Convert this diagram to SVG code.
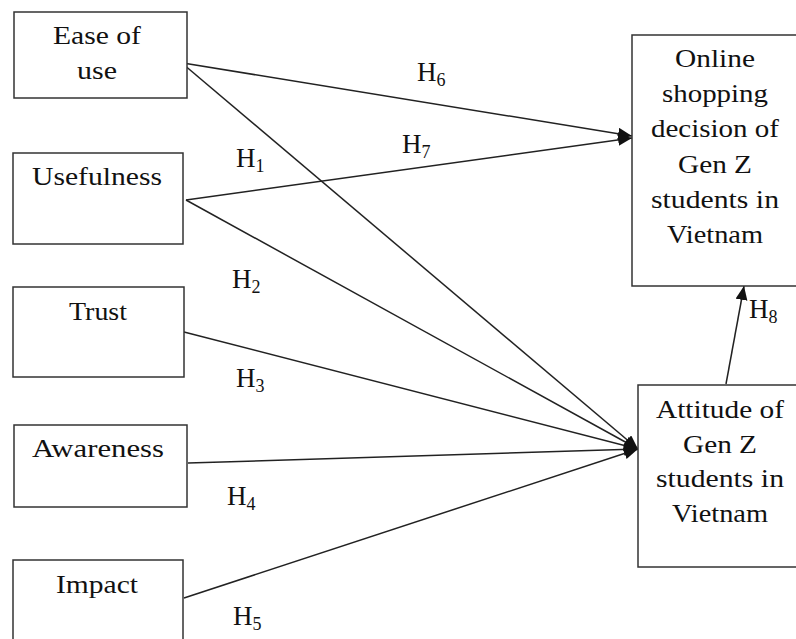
<svg xmlns="http://www.w3.org/2000/svg" width="796" height="639" viewBox="0 0 796 639">
<style>
.box{fill:#fff;stroke:#333;stroke-width:1.5}
.t{font-family:"Liberation Serif","Times New Roman",serif;font-size:26px;fill:#111;text-anchor:middle}
.h{font-family:"Liberation Serif","Times New Roman",serif;font-size:27px;fill:#111}
.sub{font-size:18px}
.c{stroke:#222;stroke-width:1.5;fill:none}
</style>
<defs>
<marker id="ah" markerUnits="userSpaceOnUse" markerWidth="16" markerHeight="14" refX="14" refY="6" orient="auto">
<path d="M0,0 L14,6 L0,12 Z" fill="#111"/>
</marker>
</defs>
<rect width="796" height="639" fill="#fff"/>
<g id="connectors">
<line class="c" x1="183" y1="63" x2="632" y2="136" marker-end="url(#ah)"/>
<line class="c" x1="183" y1="64" x2="638" y2="449" marker-end="url(#ah)"/>
<line class="c" x1="186" y1="200" x2="632" y2="138" marker-end="url(#ah)"/>
<line class="c" x1="186" y1="200" x2="638" y2="449" marker-end="url(#ah)"/>
<line class="c" x1="184" y1="332" x2="638" y2="449" marker-end="url(#ah)"/>
<line class="c" x1="188" y1="463" x2="638" y2="449" marker-end="url(#ah)"/>
<line class="c" x1="184" y1="598" x2="638" y2="449" marker-end="url(#ah)"/>
<line class="c" x1="726" y1="384" x2="744" y2="286" marker-end="url(#ah)"/>
</g>
<g id="ease">
<rect class="box" x="14" y="12" width="173" height="86"/>
<text class="t" x="97" y="44" textLength="88" lengthAdjust="spacingAndGlyphs">Ease of</text>
<text class="t" x="97" y="79" textLength="40" lengthAdjust="spacingAndGlyphs">use</text>
</g>
<g id="usefulness">
<rect class="box" x="13" y="153" width="170" height="91"/>
<text class="t" x="97" y="185" textLength="130" lengthAdjust="spacingAndGlyphs">Usefulness</text>
</g>
<g id="trust">
<rect class="box" x="13" y="287" width="171" height="90"/>
<text class="t" x="98" y="320" textLength="58" lengthAdjust="spacingAndGlyphs">Trust</text>
</g>
<g id="awareness">
<rect class="box" x="14" y="425" width="173" height="82"/>
<text class="t" x="98" y="457" textLength="132" lengthAdjust="spacingAndGlyphs">Awareness</text>
</g>
<g id="impact">
<rect class="box" x="13" y="560" width="170" height="90"/>
<text class="t" x="97" y="593" textLength="82" lengthAdjust="spacingAndGlyphs">Impact</text>
</g>
<g id="online">
<rect class="box" x="632" y="35" width="180" height="251"/>
<text class="t" x="715" y="67" textLength="80" lengthAdjust="spacingAndGlyphs">Online</text>
<text class="t" x="715" y="102" textLength="106" lengthAdjust="spacingAndGlyphs">shopping</text>
<text class="t" x="715" y="137" textLength="128" lengthAdjust="spacingAndGlyphs">decision of</text>
<text class="t" x="715" y="173" textLength="74" lengthAdjust="spacingAndGlyphs">Gen Z</text>
<text class="t" x="715" y="208" textLength="128" lengthAdjust="spacingAndGlyphs">students in</text>
<text class="t" x="715" y="243" textLength="96" lengthAdjust="spacingAndGlyphs">Vietnam</text>
</g>
<g id="attitude">
<rect class="box" x="638" y="385" width="170" height="182"/>
<text class="t" x="720" y="418" textLength="128" lengthAdjust="spacingAndGlyphs">Attitude of</text>
<text class="t" x="720" y="453" textLength="74" lengthAdjust="spacingAndGlyphs">Gen Z</text>
<text class="t" x="720" y="487" textLength="128" lengthAdjust="spacingAndGlyphs">students in</text>
<text class="t" x="720" y="522" textLength="96" lengthAdjust="spacingAndGlyphs">Vietnam</text>
</g>
<g id="labels">
<text class="h" x="236" y="167">H<tspan class="sub" dy="5">1</tspan></text>
<text class="h" x="232" y="288">H<tspan class="sub" dy="5">2</tspan></text>
<text class="h" x="236" y="387">H<tspan class="sub" dy="5">3</tspan></text>
<text class="h" x="227" y="505">H<tspan class="sub" dy="5">4</tspan></text>
<text class="h" x="233" y="625">H<tspan class="sub" dy="5">5</tspan></text>
<text class="h" x="417" y="81">H<tspan class="sub" dy="5">6</tspan></text>
<text class="h" x="402" y="153">H<tspan class="sub" dy="5">7</tspan></text>
<text class="h" x="749" y="318">H<tspan class="sub" dy="5">8</tspan></text>
</g>
</svg>
